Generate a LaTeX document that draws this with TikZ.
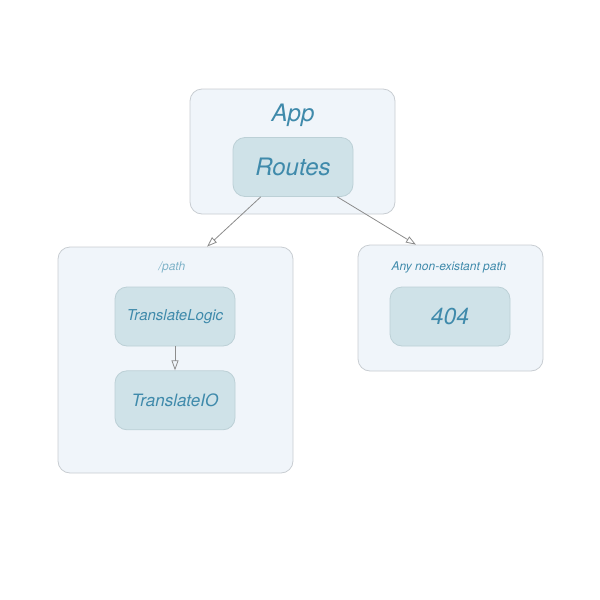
\documentclass[tikz,border=0pt]{standalone}
\usepackage{fontspec}
\setmainfont{TeX Gyre Heros}
\usetikzlibrary{calc}
\usetikzlibrary{arrows.meta}
\usetikzlibrary{positioning}

\definecolor{outerfill}{HTML}{F0F5FA}
\definecolor{outerline}{HTML}{C8CDD2}
\definecolor{innerfill}{HTML}{CFE2E8}
\definecolor{innerline}{HTML}{BCD0D6}
\definecolor{textblue}{HTML}{3F8AAB}
\definecolor{textlight}{HTML}{7FB3C9}
\definecolor{edgegrey}{HTML}{8C8C8C}

\begin{document}
\begin{tikzpicture}[x=1pt, y=-1pt,
    every node/.style={font=\itshape, text=textblue, inner sep=0},
    group/.style={draw=outerline, fill=outerfill, rounded corners=12pt, line width=0.8pt},
    comp/.style={draw=innerline, fill=innerfill, rounded corners=12pt, line width=0.8pt,
      minimum width=120pt, minimum height=59pt},
    edge/.style={draw=edgegrey, line width=0.8pt,
      -{Triangle[open, length=10pt, width=7pt]}}
  ]
  \useasboundingbox (0,0) rectangle (600,600);

  % groups
  \node[group, minimum width=205pt, minimum height=125pt] (app) at (292.5,151.5) {};
  \node[group, minimum width=235pt, minimum height=226pt] (path) at (175.5,360) {};
  \node[group, minimum width=185pt, minimum height=126pt] (other) at (450.5,308) {};

  % group titles
  \node[font=\itshape\fontsize{24}{24}\selectfont] (app_title) at (293,115) {App};
  \node[font=\itshape\fontsize{12}{12}\selectfont, text=textlight] (path_title) at (172,267) {/path};
  \node[font=\itshape\fontsize{12}{12}\selectfont] (other_title) at (449,267) {Any non-existant path};

  % components
  \node[comp, font=\itshape\fontsize{24}{24}\selectfont] (routes) at (293,167) {Routes};
  \node[comp, font=\itshape\fontsize{15}{15}\selectfont] (logic) at (175,316.5) {TranslateLogic};
  \node[comp, font=\itshape\fontsize{17}{17}\selectfont, below=24pt of logic] (io) {TranslateIO};
  \node[comp, font=\itshape\fontsize{23}{23}\selectfont] (notfound) at (450,316.5) {404};

  \coordinate (routes_out1) at ($(routes.south west)!0.233!(routes.south east)$);
  \coordinate (routes_out2) at ($(routes.south west)!0.867!(routes.south east)$);
  \coordinate (path_in) at ($(path.north west)!0.634!(path.north east)$);
  \coordinate (other_in) at ($(other.north west)!0.314!(other.north east)$);

  \draw[edge] (routes_out1) -- (path_in);
  \draw[edge] (routes_out2) -- (other_in);
  \draw[edge] (logic) -- (io);
\end{tikzpicture}
\end{document}
